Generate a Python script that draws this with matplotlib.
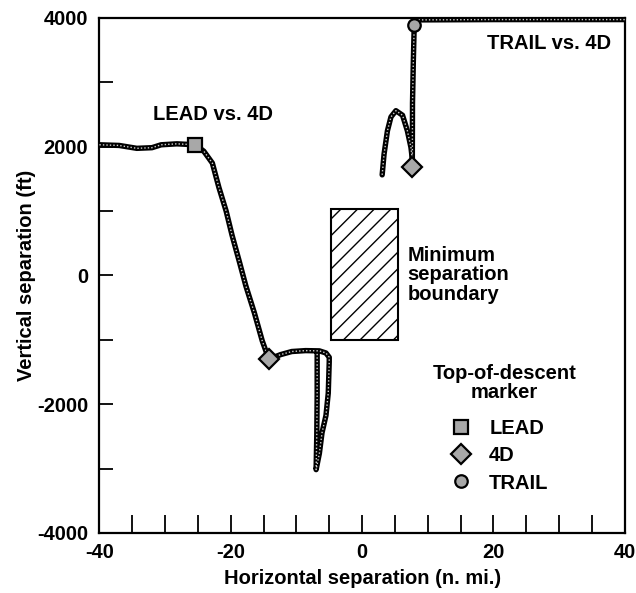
import matplotlib
matplotlib.use("Agg")
import matplotlib.pyplot as plt
from matplotlib.patches import Rectangle
from matplotlib.ticker import MultipleLocator

plt.rcParams['font.family'] = ['Liberation Sans', 'DejaVu Sans']
plt.rcParams['font.weight'] = 'bold'
plt.rcParams['axes.labelweight'] = 'bold'
plt.rcParams['axes.unicode_minus'] = False
plt.rcParams['hatch.linewidth'] = 1.0

# LEAD vs. 4D track (n. mi., ft)
lead_x = [-40, -37, -34.3, -32, -30.6, -28.2, -25.4, -24.1, -22.8, -21.8, -20.7,
          -19.8, -18.7, -17.7, -16.4, -15.2, -14.2, -12.4, -10.7, -8.6, -6.5,
          -5.5, -5.0, -5.0, -5.15, -5.5, -6.1, -6.5, -7.0, -6.9, -6.84, -6.84, -6.84]
lead_y = [2030, 2020, 1975, 1985, 2030, 2045, 2030, 1930, 1746, 1366, 1000,
          625, 219, -161, -581, -1016, -1300, -1229, -1181, -1167, -1171,
          -1204, -1271, -1343, -1829, -2175, -2444, -2762, -3016, -2492, -1857, -1300, -1200]

# TRAIL vs. 4D tracks
trail_x = [40, 20, 8.6, 7.94, 7.8, 7.68, 7.65]
trail_y = [3975, 3975, 3970, 3890, 3300, 2677, 1700]
fourd_x = [3.06, 3.35, 3.86, 4.4, 5.15, 6.16, 6.9, 7.44, 7.64, 7.6]
fourd_y = [1563, 1887, 2247, 2463, 2560, 2489, 2247, 1990, 1817, 1666]

# top-of-descent markers
lead_mark = (-25.4, 2030)
fourd_marks = ([-14.2, 7.6], [-1300, 1680])
trail_mark = (7.9, 3890)

# minimum separation boundary
box_x = (-4.7, 5.5)
box_y = (-1010, 1030)

fig = plt.figure(figsize=(6.36, 5.93), dpi=100)
ax = fig.add_axes([0.1563, 0.1012, 0.826, 0.8685])


def draw_track(x, y):
    ax.plot(x, y, color='black', lw=3.9, solid_capstyle='round',
            solid_joinstyle='round', zorder=3)
    ax.plot(x, y, color='#cfcfcf', lw=1.0, ls=(0, (1, 1.5)), zorder=4)


draw_track(lead_x, lead_y)
draw_track(trail_x, trail_y)
draw_track(fourd_x, fourd_y)

ax.add_patch(Rectangle((box_x[0], box_y[0]), box_x[1] - box_x[0], box_y[1] - box_y[0],
                       facecolor='white', edgecolor='black', lw=1.5, hatch='//', zorder=2))

mk = dict(ls='none', markerfacecolor='#a8a8a8', markeredgecolor='black',
          markeredgewidth=1.6, zorder=5)
ax.plot([lead_mark[0]], [lead_mark[1]], marker='s', ms=10, label='LEAD', **mk)
ax.plot(fourd_marks[0], fourd_marks[1], marker='D', ms=10, label='4D', **mk)
ax.plot([trail_mark[0]], [trail_mark[1]], marker='o', ms=9, label='TRAIL', **mk)

ax.text(-22.7, 2500, 'LEAD vs. 4D', fontsize=14.5, ha='center', va='center')
ax.text(38.0, 3600, 'TRAIL vs. 4D', fontsize=14.5, ha='right', va='center')
ax.text(6.9, 10, 'Minimum\nseparation\nboundary', fontsize=14.5, ha='left',
        va='center', linespacing=1.05)
ax.text(21.7, -1670, 'Top-of-descent\nmarker', fontsize=14.5, ha='center',
        va='center', multialignment='center', linespacing=1.0)

leg = ax.legend(loc='center', bbox_to_anchor=(0.762, 0.1495), frameon=False,
                fontsize=14.5, handlelength=1.0, handletextpad=0.9,
                labelspacing=0.4, borderpad=0.2)

ax.set_xlim(-40, 40)
ax.set_ylim(-4000, 4000)
ax.xaxis.set_major_locator(MultipleLocator(20))
ax.xaxis.set_minor_locator(MultipleLocator(5))
ax.yaxis.set_major_locator(MultipleLocator(2000))
ax.yaxis.set_minor_locator(MultipleLocator(1000))
ax.tick_params(axis='x', which='both', direction='in', length=13, width=1.3,
               top=False, labelsize=14.5, pad=7)
ax.tick_params(axis='y', which='both', direction='in', length=10, width=1.3,
               right=False, labelsize=14.5, pad=8)
for s in ax.spines.values():
    s.set_linewidth(1.6)

ax.set_xlabel('Horizontal separation (n. mi.)', fontsize=14.5, labelpad=5)
ax.set_ylabel('Vertical separation (ft)', fontsize=14.5, labelpad=1)

fig.savefig('out.png', dpi=100)
